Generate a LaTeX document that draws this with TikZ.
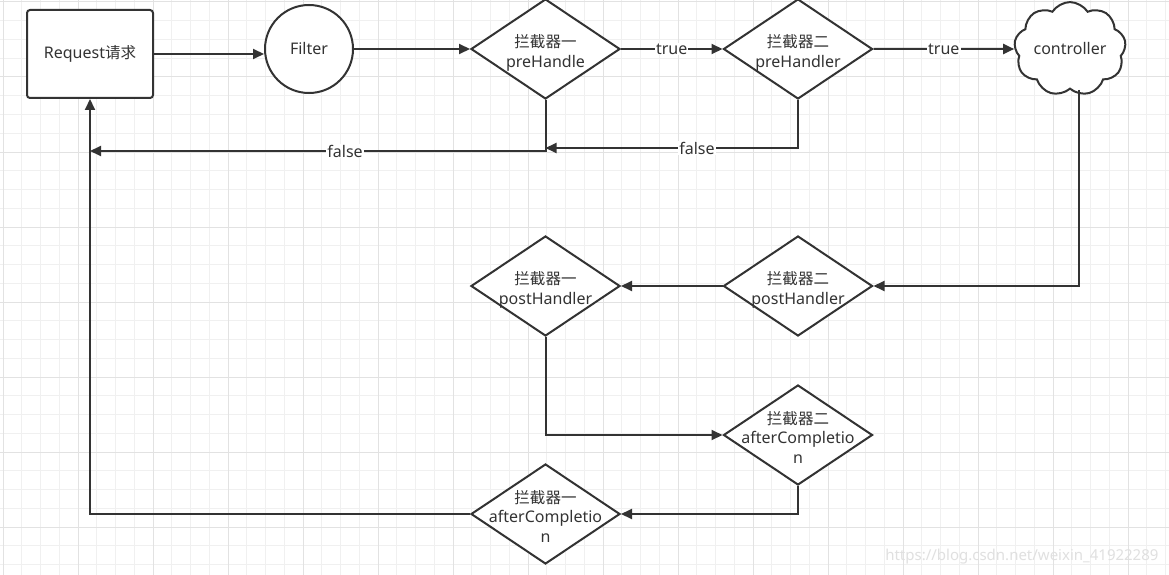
\documentclass[tikz,border=0pt]{standalone}
\usepackage{fontspec}
\setmainfont{Noto Sans}
\newfontfamily\cjk[Scale=0.97]{Noto Sans CJK SC}
\usetikzlibrary{shapes.geometric,shapes.symbols,arrows.meta,calc}
\definecolor{ink}{HTML}{333333}
\definecolor{gminor}{HTML}{F0F0F0}
\definecolor{gmajor}{HTML}{E2E2E2}
\newcommand{\dtxt}[1]{\smash{\makebox[0pt]{\raisebox{-9pt}{\begin{tabular}[c]{@{}c@{}}#1\end{tabular}}}}}
\begin{document}
\begin{tikzpicture}[x=1pt,y=-1pt,
  every node/.style={font=\fontsize{16}{19.5}\selectfont, text=ink},
  shp/.style={draw=ink, line width=2pt, fill=white},
  box/.style={shp, rectangle, rounded corners=3pt, minimum width=126pt, minimum height=88pt, inner sep=0pt},
  circ/.style={shp, circle, minimum size=88pt, inner sep=0pt},
  dia/.style={shp, diamond, minimum width=149pt, minimum height=100pt, inner sep=0pt},
  cld/.style={shp, cloud, cloud puffs=9, cloud puff arc=115, aspect=1.3, minimum width=111pt, minimum height=88pt, inner sep=0pt},
  arr/.style={draw=ink, line width=2pt, -{Triangle[length=11pt,width=10pt]}},
  lbl/.style={fill=white, inner sep=1pt}
]
\useasboundingbox (0,0) rectangle (1169,575);
\fill[white] (0,0) rectangle (1169,575);
% grid
\foreach \i in {0,...,62} {\pgfmathsetmacro\xx{3+18.75*\i}\draw[gminor, line width=1pt] (\xx,0) -- (\xx,575);}
\foreach \j in {0,...,30} {\pgfmathsetmacro\yy{2+18.75*\j}\draw[gminor, line width=1pt] (0,\yy) -- (1169,\yy);}
\foreach \i in {0,...,15} {\pgfmathsetmacro\xx{3+75*\i}\draw[gmajor, line width=1pt] (\xx,0) -- (\xx,575);}
\foreach \j in {0,...,7} {\pgfmathsetmacro\yy{2+75*\j}\draw[gmajor, line width=1pt] (0,\yy) -- (1169,\yy);}

% nodes
\node[box] (req) at (90,54) {Request{\cjk 请求}};
\node[circ] (filter) at (309,49) {Filter};
\node[dia] (d1) at (545.5,49) {\dtxt{{\cjk 拦截器一}\\preHandle}};
\node[dia] (d2) at (798,49) {\dtxt{{\cjk 拦截器二}\\preHandler}};
\node[cld] (ctrl) at (1070,49) {controller};
\node[dia] (d3) at (798,286) {\dtxt{{\cjk 拦截器二}\\postHandler}};
\node[dia] (d4) at (545.5,286) {\dtxt{{\cjk 拦截器一}\\postHandler}};
\node[dia] (d5) at (798,435) {\dtxt{{\cjk 拦截器二}\\afterCompletio\\n}};
\node[dia] (d6) at (545.5,514) {\dtxt{{\cjk 拦截器一}\\afterCompletio\\n}};

\coordinate (j1) at (545.5,148);
\coordinate (j2) at (90,151);

% connectors
\draw[arr] (req.east) -- (filter.west |- req.east);
\draw[arr] (filter.east) -- (d1.west);
\draw[arr] (d1.east) -- node[lbl]{true} (d2.west);
\draw[arr] (d2.east) -- node[lbl]{true} (ctrl.west);
\draw[arr] (d2.south) |- node[lbl, pos=0.7]{false} (j1);
\draw[arr] (d1.south) |- node[lbl, pos=0.72]{false} (j2);
\draw[arr] ([xshift=9pt]ctrl.south) |- (d3.east);
\draw[arr] (d3.west) -- (d4.east);
\draw[arr] (d4.south) |- (d5.west);
\draw[arr] (d5.south) |- (d6.east);
\draw[arr] (d6.west) -| (req.south);

\node[anchor=east, text=black!12, font=\fontsize{15}{16}\selectfont] (wm) at (1162,557) {https://blog.csdn.net/weixin\_41922289};
\end{tikzpicture}
\end{document}
